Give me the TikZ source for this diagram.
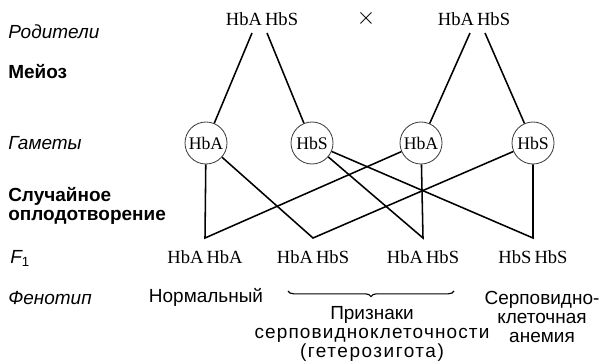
\documentclass[tikz,border=0pt]{standalone}
\usepackage{fontspec}
\setmainfont{Liberation Serif}
\setsansfont{Liberation Sans}
\usetikzlibrary{decorations.pathreplacing,positioning}

\tikzset{
  allele/.style={inner sep=1pt, font=\fontsize{13.2}{14}\selectfont},
  gamete/.style={circle, draw=black!75, line width=0.6pt, minimum size=1.05cm,
                 inner sep=0pt, font=\fontsize{12.6}{14}\selectfont},
  rowlbl/.style={anchor=west, inner sep=0pt, font=\sffamily\itshape\fontsize{13.5}{14}\selectfont},
  stagelbl/.style={anchor=west, align=left, inner sep=0pt,
                   font=\sffamily\bfseries\fontsize{13.5}{13.2}\selectfont},
  pheno/.style={align=center, inner sep=0pt, font=\sffamily\fontsize{13.5}{13.4}\selectfont},
  cross/.style={line width=1.1pt}
}

\begin{document}
\begin{tikzpicture}[x=0.025cm, y=-0.025cm]
 \useasboundingbox (0,0) rectangle (602,360);
 % row labels
 \node[rowlbl] (rod) at (8,32) {Родители};
 \node[stagelbl] (mei) at (8,72) {Мейоз};
 \node[rowlbl] (gam) at (8,143) {Гаметы};
 \node[stagelbl] (opl) at (8,206) {Случайное\\оплодотворение};
 \node[rowlbl] (fone) at (10,258) {F\textsubscript{\upshape 1}};
 \node[rowlbl] (fen) at (8,298) {Фенотип};
 % parents
 \node[allele] (pa) at (262,19) {HbA\,HbS};
 \node[allele, font=\fontsize{17}{17}\selectfont] (mul) at (366,18) {$\times$};
 \node[allele] (pb) at (474,19) {HbA\,HbS};
 \coordinate (pa1) at (252,33); \coordinate (pa2) at (267,33);
 \coordinate (pb1) at (470,33); \coordinate (pb2) at (485,33);
 % gametes
 \node[gamete] (g1) at (206,143) {HbA};
 \node[gamete] (g2) at (312,143) {HbS};
 \node[gamete] (g3) at (421,143) {HbA};
 \node[gamete] (g4) at (533,143) {HbS};
 \draw[cross] (pa1) -- (g1); \draw[cross] (pa2) -- (g2);
 \draw[cross] (pb1) -- (g3); \draw[cross] (pb2) -- (g4);
 % F1
 \coordinate (j1) at (205,238); \coordinate (j2) at (313,238);
 \coordinate (j3) at (423,238); \coordinate (j4) at (533,238);
 \draw[cross] (g1) -- (j1) -- (g3);
 \draw[cross] (g1) -- (j2) -- (g4);
 \draw[cross] (g2) -- (j3) -- (g3);
 \draw[cross] (g2) -- (j4) -- (g4);
 \node[allele] (f1) at (205,257) {HbA\,HbA};
 \node[allele] (f2) at (313,257) {HbA\,HbS};
 \node[allele] (f3) at (423,257) {HbA\,HbS};
 \node[allele] (f4) at (533,257) {HbS\,HbS};
 % phenotypes
 \node[pheno] (norm) at (206,297) {Нормальный};
 \coordinate (br1) at (288,291); \coordinate (br2) at (454,291);
 \draw[line width=0.8pt, decorate, decoration={brace, mirror, amplitude=4pt}] (br1) -- (br2);
 \node[pheno] (het) at (372,334) {Признаки\\
   {\addfontfeatures{LetterSpace=6}серповидноклеточности}\\
   {\addfontfeatures{LetterSpace=8}(гетерозигота)}};
 \node[pheno] (anem) at (542,317) {Серповидно-\\клеточная\\анемия};
\end{tikzpicture}
\end{document}
